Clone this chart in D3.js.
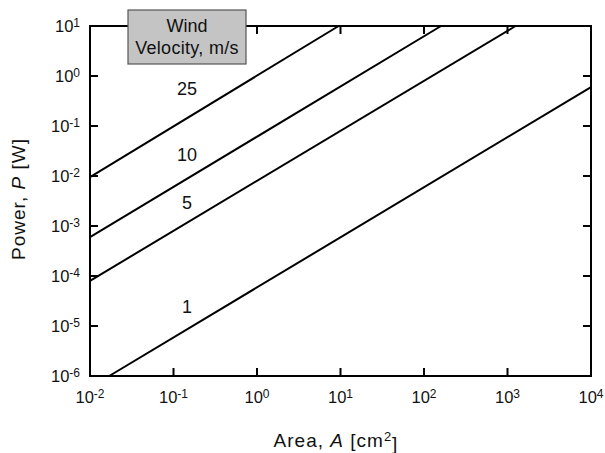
<html>
<head>
<script src="https://d3js.org/d3.v7.min.js"></script>
<style>
  body { margin: 0; background: #fff; }
  text { font-family: "Liberation Sans", Arial, sans-serif; fill: #111; }
</style>
</head>
<body>
<div id="chart"></div>
<script>
// wind velocity (m/s) and the two ends of each straight line
const velocities = [25, 10, 5, 1];
const areaStart  = [0.01, 0.01, 0.01, 0.017];
const powerStart = [0.0095, 0.0006, 0.00008, 1e-6];
const areaEnd    = [9.5, 160, 1250, 10000];
const powerEnd   = [10, 10, 10, 0.6];
// where the velocity numbers sit (data coords)
const labelArea  = [0.145, 0.145, 0.145, 0.145];
const labelPower = [0.55, 0.0275, 0.003, 2.5e-5];

const xTicks = [-2, -1, 0, 1, 2, 3, 4];
const yTicks = [-6, -5, -4, -3, -2, -1, 0, 1];

const W = 605, H = 453;
const margin = { top: 26, right: 14, bottom: 77, left: 90 };

const svg = d3.select("#chart").append("svg")
  .attr("width", W).attr("height", H);

const x = d3.scaleLog().domain([1e-2, 1e4]).range([margin.left, W - margin.right]);
const y = d3.scaleLog().domain([1e-6, 1e1]).range([H - margin.bottom, margin.top]);

const x0 = x.range()[0], x1 = x.range()[1], y0 = y.range()[0], y1 = y.range()[1];
const tickLen = 8;

// lines
const line = d3.line().x(d => x(d[0])).y(d => y(d[1]));
velocities.forEach((v, i) => {
  svg.append("path")
    .attr("d", line([[areaStart[i], powerStart[i]], [areaEnd[i], powerEnd[i]]]))
    .attr("fill", "none").attr("stroke", "#000").attr("stroke-width", 2);
  svg.append("text")
    .attr("x", x(labelArea[i])).attr("y", y(labelPower[i]))
    .attr("dy", "0.36em")
    .attr("text-anchor", "middle")
    .style("font-size", "18px")
    .text(v);
});

// frame + ticks on all sides
const ax = svg.append("g").attr("stroke", "#000").attr("stroke-width", 2);
ax.append("rect").attr("x", x0).attr("y", y1).attr("width", x1 - x0).attr("height", y0 - y1)
  .attr("fill", "none");
xTicks.forEach(e => {
  const px = x(Math.pow(10, e));
  ax.append("line").attr("x1", px).attr("x2", px).attr("y1", y0).attr("y2", y0 - tickLen);
  ax.append("line").attr("x1", px).attr("x2", px).attr("y1", y1).attr("y2", y1 + tickLen);
});
yTicks.forEach(e => {
  const py = y(Math.pow(10, e));
  ax.append("line").attr("x1", x0).attr("x2", x0 + tickLen).attr("y1", py).attr("y2", py);
  ax.append("line").attr("x1", x1).attr("x2", x1 - tickLen).attr("y1", py).attr("y2", py);
});

function powLabel(sel, e) {
  sel.append("tspan").text("10");
  sel.append("tspan").attr("dy", "-0.45em").style("font-size", "12px").text(e);
}

xTicks.forEach(e => {
  const t = svg.append("text")
    .attr("x", x(Math.pow(10, e))).attr("y", y0 + 27)
    .attr("text-anchor", "middle").style("font-size", "16.5px");
  powLabel(t, e);
});
yTicks.forEach(e => {
  const t = svg.append("text")
    .attr("x", x0 - 10).attr("y", y(Math.pow(10, e)) + 6)
    .attr("text-anchor", "end").style("font-size", "16.5px");
  powLabel(t, e);
});

// axis titles
const xt = svg.append("text").attr("x", 336).attr("y", 447)
  .attr("text-anchor", "middle").style("font-size", "19px").style("letter-spacing", "1px");
xt.append("tspan").text("Area, ");
xt.append("tspan").style("font-style", "italic").text("A");
xt.append("tspan").text(" [cm");
xt.append("tspan").attr("dy", "-0.45em").style("font-size", "13px").text("2");
xt.append("tspan").attr("dy", "0.45em").text("]");

const yt = svg.append("text")
  .attr("transform", "translate(25,199) rotate(-90)")
  .attr("text-anchor", "middle").style("font-size", "19px").style("letter-spacing", "1px");
yt.append("tspan").text("Power, ");
yt.append("tspan").style("font-style", "italic").text("P");
yt.append("tspan").text(" [W]");

// legend box
const lg = svg.append("g");
lg.append("rect").attr("x", 128).attr("y", 10).attr("width", 118).attr("height", 54)
  .attr("fill", "#c4c4c4").attr("stroke", "#555").attr("stroke-width", 1.2);
lg.append("text").attr("x", 187).attr("y", 32).attr("text-anchor", "middle")
  .style("font-size", "18px").text("Wind");
lg.append("text").attr("x", 187).attr("y", 54).attr("text-anchor", "middle")
  .style("font-size", "18px").style("letter-spacing", "0.3px").text("Velocity, m/s");
</script>
</body>
</html>
